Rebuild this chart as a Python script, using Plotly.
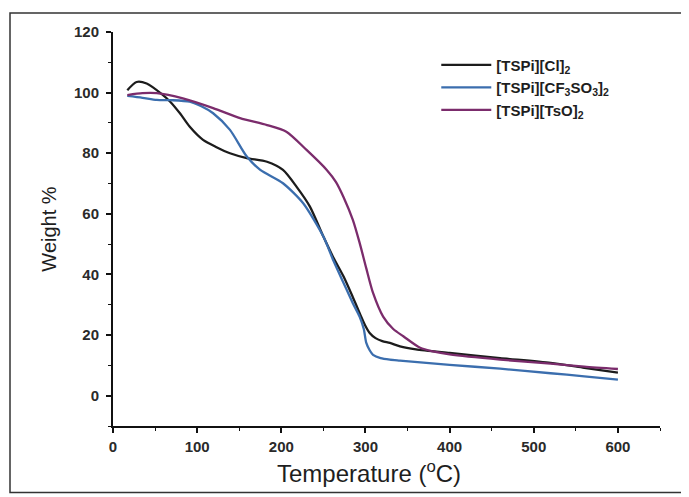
import plotly.graph_objects as go

# ---- data ----
cl_T = [17, 28, 40, 58, 68, 80, 91, 107, 123, 139, 159, 183, 202, 218, 234, 250, 262, 274, 285, 293, 300, 305, 312, 320, 329, 341, 360, 400, 460, 520, 560, 600]
cl_W = [100.8, 103.5, 103.0, 99.5, 97.0, 93.0, 88.8, 84.4, 82.0, 80.0, 78.4, 77.2, 74.5, 69.0, 62.4, 52.5, 45.5, 39.3, 32.5, 27.3, 23.0, 20.7, 19.0, 18.0, 17.4, 16.3, 15.3, 14.1, 12.4, 10.8, 9.2, 7.6]

cf_T = [17, 35, 52, 70, 91, 105, 119, 139, 159, 175, 202, 226, 250, 262, 274, 285, 293, 298, 301, 305, 309, 318, 329, 341, 400, 460, 520, 560, 600]
cf_W = [98.9, 98.3, 97.6, 97.5, 97.0, 95.5, 93.2, 87.7, 78.9, 74.5, 70.1, 63.5, 52.5, 44.5, 37.2, 30.5, 26.1, 22.0, 17.4, 15.0, 13.5, 12.4, 11.9, 11.6, 10.2, 8.9, 7.4, 6.4, 5.3]

ts_T = [17, 35, 52, 83, 119, 151, 183, 206, 230, 254, 265, 274, 285, 293, 301, 309, 321, 333, 345, 365, 380, 400, 460, 520, 560, 600]
ts_W = [99.2, 99.8, 99.8, 98.1, 94.9, 91.6, 89.3, 87.1, 81.1, 74.5, 70.5, 65.5, 58.0, 50.5, 42.0, 33.9, 26.1, 22.0, 19.6, 15.8, 14.6, 13.6, 11.9, 10.6, 9.6, 8.8]

series_names = ["[TSPi][Cl]<sub>2</sub>",
                "[TSPi][CF<sub>3</sub>SO<sub>3</sub>]<sub>2</sub>",
                "[TSPi][TsO]<sub>2</sub>"]
series_colors = ["#1c1c1c", "#3b6eae", "#7b2c6c"]

x_ticks = [0, 100, 200, 300, 400, 500, 600]
y_ticks = [0, 20, 40, 60, 80, 100, 120]

FONT = "Liberation Sans, Arial, sans-serif"

# page body has an 8px margin, so the figure is shifted by 8px
W_FIG, H_FIG = 681, 489
L, T_M, PW, PH = 105, 24, 547, 394.5
B = H_FIG - T_M - PH
R = W_FIG - L - PW

fig = go.Figure()
for T, W, name, col in zip([cl_T, cf_T, ts_T], [cl_W, cf_W, ts_W], series_names, series_colors):
    fig.add_trace(go.Scatter(x=T, y=W, mode="lines", name=name,
                             line=dict(color=col, width=2.3, shape="spline", smoothing=0.7)))

axis_common = dict(showline=True, linecolor="#111", linewidth=2, showgrid=False, zeroline=False,
                   ticks="outside", tickcolor="#111", tickwidth=1.5, ticklen=5,
                   tickfont=dict(family=FONT, size=15, color="#2a2a2a", weight="bold"), mirror=False)

fig.update_xaxes(range=[0, 650], tickvals=x_ticks,
                 minor=dict(dtick=50, tick0=0, ticks="outside", ticklen=3, tickcolor="#111", tickwidth=1.2),
                 ticklabelstandoff=1,
                 **axis_common)
fig.update_yaxes(range=[-10, 120], tickvals=y_ticks,
                 minor=dict(dtick=10, tick0=0, ticks="outside", ticklen=3, tickcolor="#111", tickwidth=1.2),
                 title=dict(text="Weight %", font=dict(family=FONT, size=20, color="#1e1e1e"), standoff=12),
                 ticklabelstandoff=4,
                 **axis_common)

fig.add_annotation(text="Temperature (<sup>o</sup>C)", xref="x", yref="paper",
                   x=304, y=(T_M + PH - 465) / PH, xanchor="center", yanchor="middle",
                   showarrow=False, font=dict(family=FONT, size=24, color="#1e1e1e"))

fig.update_layout(
    width=W_FIG, height=H_FIG,
    margin=dict(l=L, r=R, t=T_M, b=B),
    paper_bgcolor="white", plot_bgcolor="white",
    font=dict(family=FONT, color="#222"),
    legend=dict(x=0.591, y=0.958, xanchor="left", yanchor="top",
                bgcolor="rgba(0,0,0,0)",
                font=dict(family=FONT, size=15, color="#1e1e1e", weight="bold"),
                itemwidth=50, tracegroupgap=0),
    shapes=[dict(type="rect", xref="paper", yref="paper",
                 x0=(2 - L) / PW, x1=(675 - L) / PW,
                 y0=(T_M + PH - 485) / PH, y1=(T_M + PH - 5) / PH,
                 line=dict(color="#333", width=1.5), layer="below")],
)

fig.write_html("out.html")
